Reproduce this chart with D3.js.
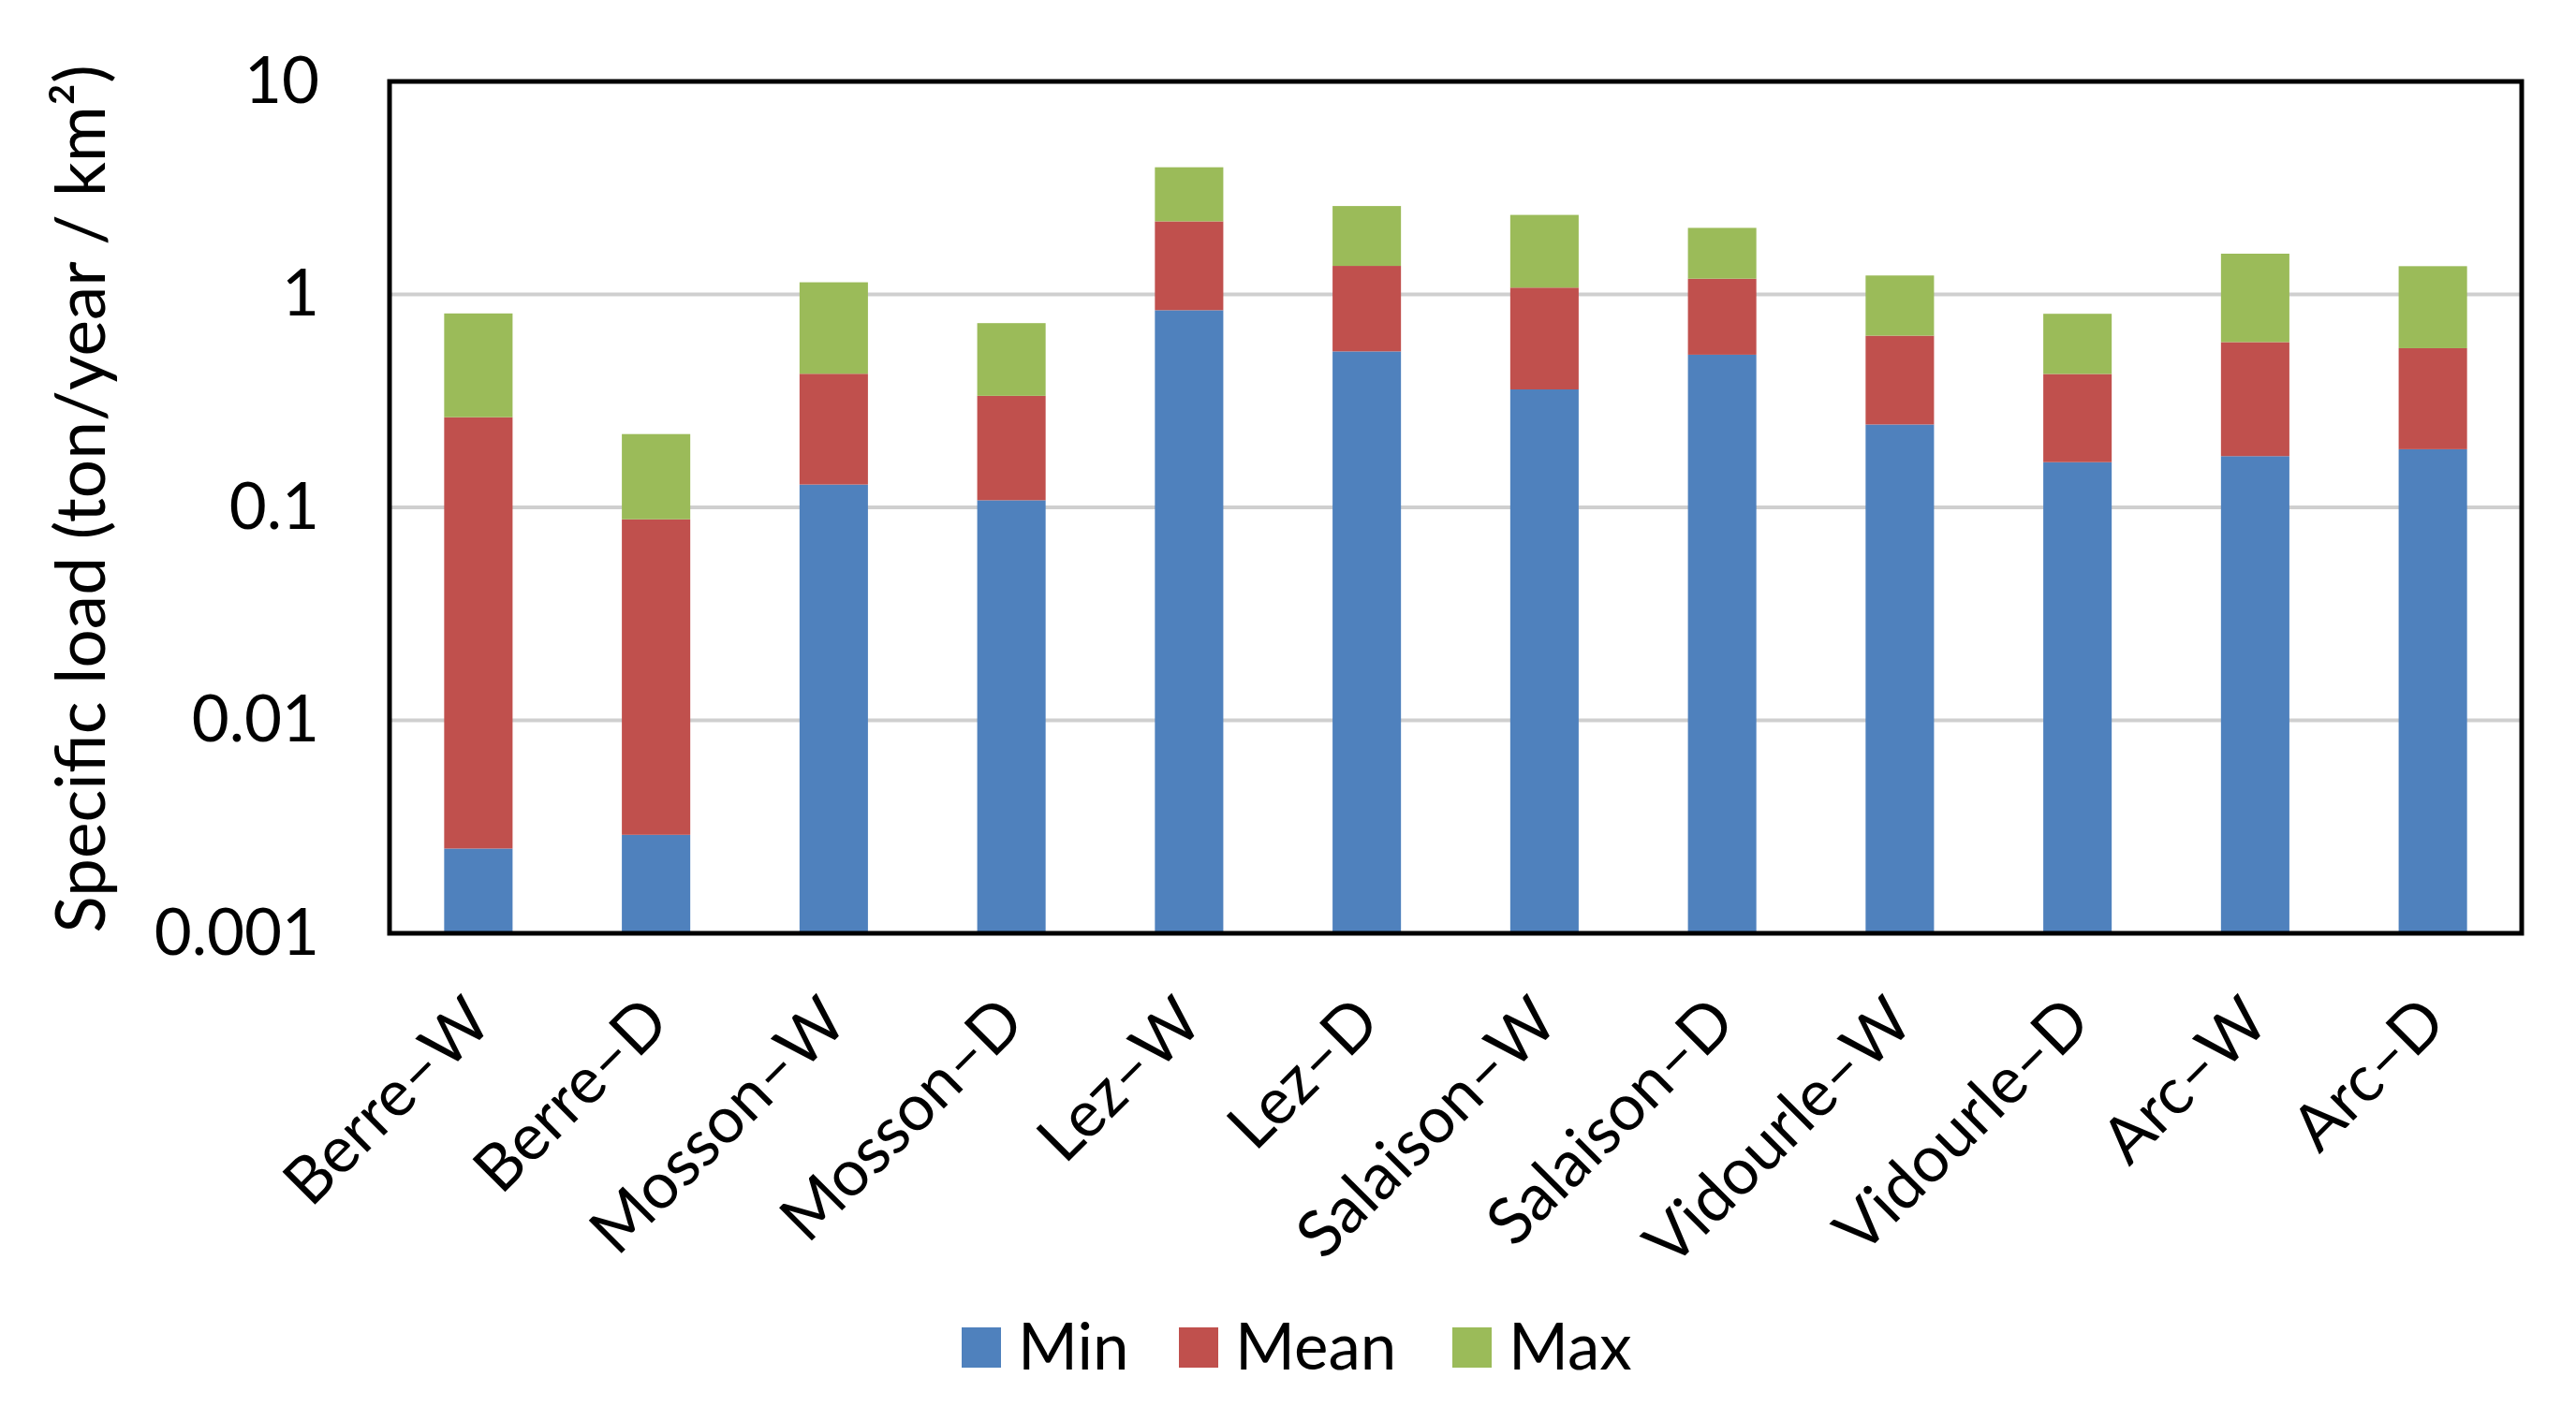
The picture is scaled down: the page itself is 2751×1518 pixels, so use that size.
<!DOCTYPE html>
<html>
<head>
<meta charset="utf-8">
<script src="https://cdn.jsdelivr.net/npm/d3@7"></script>
<style>
  body { margin: 0; background: #fff; }
  text { font-family: Lato, "Open Sans", sans-serif; fill: #000; }
</style>
</head>
<body>
<div id="container"></div>
<script>
// ---------------- data ----------------
const categories = ["Berre–W", "Berre–D", "Mosson–W", "Mosson–D", "Lez–W", "Lez–D",
  "Salaison–W", "Salaison–D", "Vidourle–W", "Vidourle–D", "Arc–W", "Arc–D"];
// stacked segments, Excel style (each one adds on top of the previous)
const minValues  = [0.0025, 0.0029, 0.128, 0.108, 0.843, 0.540, 0.358, 0.521, 0.245, 0.163, 0.174, 0.1875];
const meanValues = [0.2625, 0.085, 0.296, 0.226, 1.36, 0.821, 0.718, 0.664, 0.395, 0.260, 0.423, 0.3715];
const maxValues  = [0.549, 0.133, 0.716, 0.399, 1.751, 1.239, 1.286, 0.868, 0.587, 0.388, 0.956, 0.798];
const seriesNames = ["Min", "Mean", "Max"];
const yTicks = [0.001, 0.01, 0.1, 1, 10];
const yTickLabels = ["0.001", "0.01", "0.1", "1", "10"];

// ---------------- layout ----------------
const width = 2751, height = 1518;
const plot = { left: 416, right: 2693, top: 87, bottom: 997 };
const colors = { Min: "#4F81BD", Mean: "#C0504D", Max: "#9BBB59" };
const fontSize = 69;

const svg = d3.select("#container").append("svg")
  .attr("width", width)
  .attr("height", height);

const rows = categories.map((c, i) => ({
  cat: c, Min: minValues[i], Mean: meanValues[i], Max: maxValues[i]
}));

const xScale = d3.scaleBand()
  .domain(categories)
  .range([plot.left, plot.right])
  .paddingInner(0.615)
  .paddingOuter(0.3075);

const yScale = d3.scaleLog()
  .domain([0.001, 10])
  .range([plot.bottom, plot.top]);

// gridlines
svg.append("g")
  .selectAll("line")
  .data(yTicks.filter(t => t > 0.001 && t < 10))
  .enter().append("line")
  .attr("x1", plot.left)
  .attr("x2", plot.right)
  .attr("y1", d => yScale(d))
  .attr("y2", d => yScale(d))
  .attr("stroke", "#cfcfcf")
  .attr("stroke-width", 4);

// stacked bars
const stacked = d3.stack().keys(seriesNames)(rows);

svg.append("g")
  .selectAll("g")
  .data(stacked)
  .enter().append("g")
  .attr("fill", d => colors[d.key])
  .selectAll("rect")
  .data(d => d)
  .enter().append("rect")
  .attr("x", d => xScale(d.data.cat))
  .attr("width", xScale.bandwidth())
  .attr("y", d => yScale(d[1]))
  .attr("height", d => yScale(Math.max(d[0], 0.001)) - yScale(d[1]));

// plot border
svg.append("rect")
  .attr("x", plot.left)
  .attr("y", plot.top)
  .attr("width", plot.right - plot.left)
  .attr("height", plot.bottom - plot.top)
  .attr("fill", "none")
  .attr("stroke", "#000")
  .attr("stroke-width", 5);

// y axis labels
const yAxis = d3.axisLeft(yScale)
  .tickValues(yTicks)
  .tickFormat((d, i) => yTickLabels[i])
  .tickSize(0)
  .tickPadding(75);

svg.append("g")
  .attr("transform", "translate(" + plot.left + ",0)")
  .call(yAxis)
  .call(g => g.select(".domain").remove())
  .selectAll("text")
  .style("font-size", fontSize + "px")
  .style("font-family", "Lato, sans-serif");

// y axis title
svg.append("text")
  .attr("transform", "translate(86," + 533 + ") rotate(-90)")
  .attr("text-anchor", "middle")
  .attr("dy", "0.35em")
  .style("font-size", "73px")
  .text("Specific load (ton/year / km²)");

// x labels, rotated
svg.append("g")
  .selectAll("text")
  .data(categories)
  .enter().append("text")
  .attr("transform", d => "translate(" + (xScale(d) + xScale.bandwidth() / 2) + "," + 1078 + ") rotate(-45)")
  .attr("text-anchor", "end")
  .attr("dy", "0.35em")
  .style("font-size", fontSize + "px")
  .text(d => d);

// legend
const legendX = [1027, 1259, 1551];
const legend = svg.append("g")
  .selectAll("g")
  .data(seriesNames)
  .enter().append("g")
  .attr("transform", (d, i) => "translate(" + legendX[i] + ",1418)");

legend.append("rect")
  .attr("width", 42)
  .attr("height", 43)
  .attr("fill", d => colors[d]);

legend.append("text")
  .attr("x", 60)
  .attr("y", 21)
  .attr("dy", "0.35em")
  .style("font-size", fontSize + "px")
  .text(d => d);
</script>
</body>
</html>
